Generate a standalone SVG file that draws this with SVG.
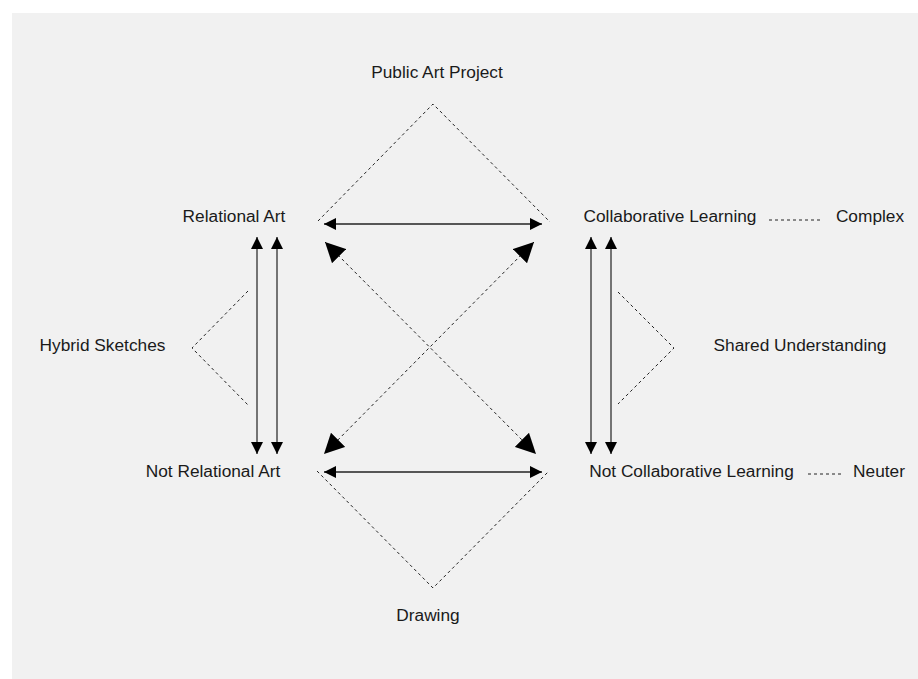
<svg xmlns="http://www.w3.org/2000/svg" width="918" height="679" viewBox="0 0 918 679">
  <style>
    .lbl { font-family: "Liberation Sans", Arial, sans-serif; font-size: 17.3px; fill: #1a1a1a; text-anchor: middle; }
    .dash { fill: none; stroke: #222; stroke-width: 1; stroke-dasharray: 3 3; }
    .solid { fill: none; stroke: #222; stroke-width: 1.5; }
    .vert { fill: none; stroke: #4a4a4a; stroke-width: 1.5; }
  </style>
  <defs>
    <marker id="sm" markerUnits="userSpaceOnUse" viewBox="0 0 12 12" markerWidth="12" markerHeight="12" refX="12" refY="6" orient="auto-start-reverse">
      <path d="M0,0 L12,6 L0,12 Z" fill="#000"/>
    </marker>
    <marker id="lg" markerUnits="userSpaceOnUse" viewBox="0 0 20 20" markerWidth="20" markerHeight="20" refX="20" refY="10" orient="auto-start-reverse">
      <path d="M0,0 L20,10 L0,20 Z" fill="#000"/>
    </marker>
  </defs>
  <rect x="12" y="13" width="906" height="666" fill="#f1f1f1"/>

  <g id="connectors">
    <line class="solid" x1="324" y1="224" x2="542" y2="224" marker-start="url(#sm)" marker-end="url(#sm)"/>
    <line class="solid" x1="324" y1="472" x2="542" y2="472" marker-start="url(#sm)" marker-end="url(#sm)"/>
    <line class="vert" x1="257" y1="237" x2="257" y2="454" marker-start="url(#sm)" marker-end="url(#sm)"/>
    <line class="vert" x1="277" y1="237" x2="277" y2="454" marker-start="url(#sm)" marker-end="url(#sm)"/>
    <line class="vert" x1="591" y1="237" x2="591" y2="454" marker-start="url(#sm)" marker-end="url(#sm)"/>
    <line class="vert" x1="611" y1="237" x2="611" y2="454" marker-start="url(#sm)" marker-end="url(#sm)"/>
    <line class="dash" x1="325" y1="242" x2="536" y2="454" marker-start="url(#lg)" marker-end="url(#lg)"/>
    <line class="dash" x1="534" y1="242" x2="324" y2="454" marker-start="url(#lg)" marker-end="url(#lg)"/>
    <polyline class="dash" points="318,221 433,104 550,222"/>
    <polyline class="dash" points="317,471 433,588 549,471"/>
    <polyline class="dash" points="248,291 192,348 248,405"/>
    <polyline class="dash" points="618,292 674,348 618,404"/>
    <line class="dash" x1="769" y1="220" x2="822" y2="220"/>
    <line class="dash" x1="808" y1="474" x2="843" y2="474"/>
  </g>

  <g id="public-art-project"><text class="lbl" x="437" y="78">Public Art Project</text></g>
  <g id="relational-art"><text class="lbl" x="234" y="222">Relational Art</text></g>
  <g id="collaborative-learning"><text class="lbl" x="670" y="222">Collaborative Learning</text></g>
  <g id="complex"><text class="lbl" x="870" y="222">Complex</text></g>
  <g id="hybrid-sketches"><text class="lbl" x="102.5" y="351">Hybrid Sketches</text></g>
  <g id="shared-understanding"><text class="lbl" x="800" y="351">Shared Understanding</text></g>
  <g id="not-relational-art"><text class="lbl" x="213" y="477">Not Relational Art</text></g>
  <g id="not-collaborative-learning"><text class="lbl" x="691.5" y="477">Not Collaborative Learning</text></g>
  <g id="neuter"><text class="lbl" x="879" y="477">Neuter</text></g>
  <g id="drawing"><text class="lbl" x="428" y="621">Drawing</text></g>
</svg>
